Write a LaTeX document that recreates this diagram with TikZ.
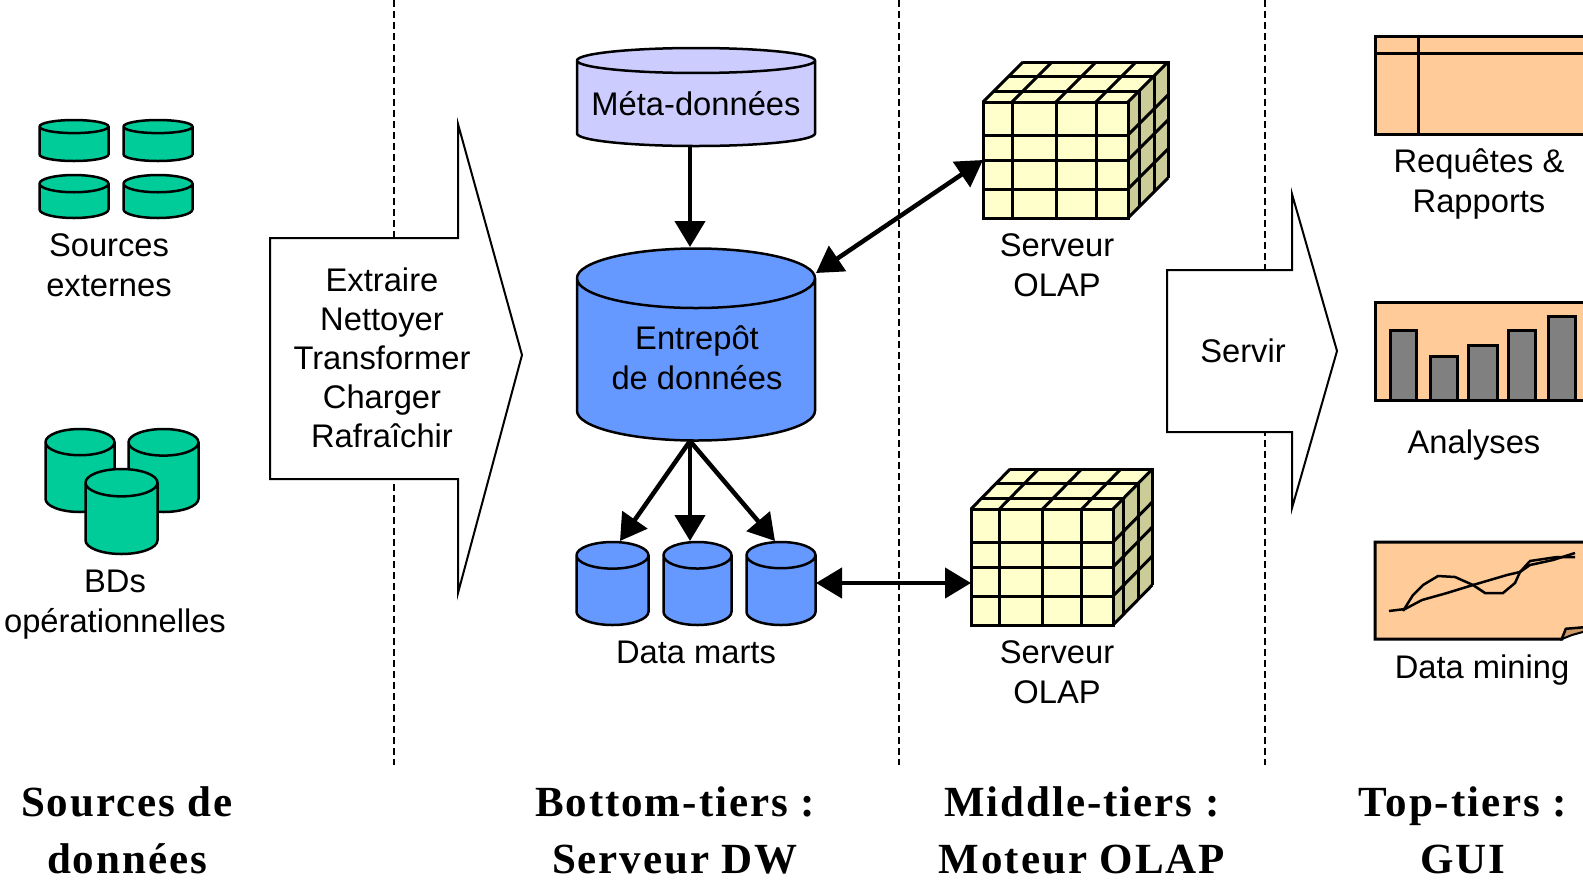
\documentclass[tikz,border=0pt]{standalone}
\usepackage{fontspec}
\setmainfont{Liberation Sans}
\newfontfamily\tierfont[LetterSpace=4.5]{Liberation Serif}
\usetikzlibrary{shapes.geometric,arrows.meta}
\definecolor{dbgreen}{HTML}{00CC99}
\definecolor{dbblue}{HTML}{6699FF}
\definecolor{dbmeta}{HTML}{CCCCFF}
\definecolor{cubeyellow}{HTML}{FFFFCC}
\definecolor{cubeside}{HTML}{CCCC99}
\definecolor{guiorange}{HTML}{FFCC99}
\definecolor{guifold}{HTML}{CC9966}
\tikzset{
  lbl/.style={align=center,inner sep=0,font=\fontsize{32.7}{40}\selectfont},
  tier/.style={align=center,inner sep=0,font=\tierfont\bfseries\fontsize{43}{57}\selectfont},
  cyl/.style 2 args={cylinder,shape border rotate=90,draw,anchor=shape center,inner sep=0,outer sep=0,
    line width=2.5pt,align=center,font=\fontsize{32.7}{40}\selectfont,cylinder uses custom fill,
    cylinder body fill=#1,cylinder end fill=#1,minimum width=#2pt,text width=#2pt},
  flow/.style={draw,fill=white,line width=2pt,line join=miter},
  panel/.style={draw,fill=guiorange,line width=3pt},
  arrowline/.style={line width=4.5pt,-{Triangle[length=26pt,width=30pt]}},
  twoway/.style={line width=4.5pt,{Triangle[length=26pt,width=30pt]}-{Triangle[length=26pt,width=30pt]}},
  olapcube/.pic={
    \fill[cubeyellow] (0,0) -- (145,0) -- (185,-40) -- (40,-40) -- cycle;
    \fill[cubeside] (145,0) -- (185,-40) -- (185,76) -- (145,116) -- cycle;
    \node[draw,fill=cubeyellow,line width=3pt,minimum width=145pt,minimum height=116pt,inner sep=0,outer sep=0,transform shape] (front) at (72.5,58) {};
    \begin{scope}[line width=3pt]
    \foreach \x in {29,73,113} \draw (\x,0) -- (\x,116);
    \foreach \y in {33,58,87} \draw (0,\y) -- (145,\y);
    \foreach \x in {0,29,73,113,145} \draw (\x,0) -- (\x+40,-40);
    \foreach \d in {11,26,40} \draw (\d,-\d) -- (145+\d,-\d) -- (145+\d,116-\d);
    \foreach \y in {33,58,87,116} \draw (145,\y) -- (185,\y-40);
    \end{scope}
  }
}
\begin{document}
\begin{tikzpicture}[x=1pt,y=-1pt]
  \useasboundingbox (0,0) rectangle (1583,879);
  % separators
  \foreach \x in {394,899,1265}
    \draw[line width=2.2pt,dash pattern=on 7pt off 4pt] (\x,0) -- (\x,765);

  % sources
  \node[cyl={dbgreen}{69},shape aspect=.19,minimum height=41pt] (extA) at (74,140.5) {};
  \node[cyl={dbgreen}{69},shape aspect=.19,minimum height=41pt] (extB) at (158,140.5) {};
  \node[cyl={dbgreen}{69},shape aspect=.25,minimum height=43pt] (extC) at (74,196.5) {};
  \node[cyl={dbgreen}{69},shape aspect=.25,minimum height=43pt] (extD) at (158,196.5) {};
  \node[lbl] (extlabel) at (109,265) {Sources\\externes};
  \node[cyl={dbgreen}{69},shape aspect=.38,minimum height=83pt] (opA) at (80,470.5) {};
  \node[cyl={dbgreen}{70},shape aspect=.38,minimum height=83pt] (opB) at (163.5,470.5) {};
  \node[cyl={dbgreen}{72},shape aspect=.38,minimum height=85pt] (opC) at (121.5,511.5) {};
  \node[lbl] (oplabel) at (115,605) {BDs\\opérationnelles};

  % extract arrow
  \path[flow] (270,238) -- (458,238) -- (458,124) -- (522,355) -- (458,593) -- (458,479) -- (270,479) -- cycle;
  \node[lbl,font=\fontsize{32.7}{39}\selectfont] (etl) at (382,358) {Extraire\\Nettoyer\\Transformer\\Charger\\Rafraîchir};

  % warehouse
  \node[cyl={dbmeta}{238},shape aspect=.105,minimum height=98pt] (meta) at (696,97) {Méta-données};
  \node[cyl={dbblue}{238},shape aspect=.25,minimum height=192pt] (dw) at (696,344.5) {};
  \node[lbl] (dwlabel) at (697,358) {Entrepôt\\de données};
  \node[cyl={dbblue}{72},shape aspect=.37,minimum height=83pt] (martA) at (612.5,583.5) {};
  \node[cyl={dbblue}{68},shape aspect=.39,minimum height=83pt] (martB) at (697.5,583.5) {};
  \node[cyl={dbblue}{69},shape aspect=.38,minimum height=83pt] (martC) at (781,583.5) {};
  \node[lbl] (martlabel) at (696,652) {Data marts};

  % olap
  \pic (olapA-) at (983,102) {olapcube};
  \node[lbl] (olapAlabel) at (1057,265) {Serveur\\OLAP};
  \pic[xscale=.98] (olapB-) at (971,509) {olapcube};
  \node[lbl] (olapBlabel) at (1057,672) {Serveur\\OLAP};

  % serve arrow
  \path[flow] (1167,270) -- (1292,270) -- (1292,194) -- (1337,351) -- (1292,508) -- (1292,432) -- (1167,432) -- cycle;
  \node[lbl] (serve) at (1243,351) {Servir};

  % connectors
  \coordinate (metaout) at (690,147);
  \coordinate (dwin) at (690,247);
  \coordinate (dwout) at (690,441);
  \coordinate (dwolap) at (816,273);
  \coordinate (tipA) at (620,541);
  \coordinate (tipB) at (690,541);
  \coordinate (tipC) at (775,541);
  \coordinate (martout) at (816,583);
  \path[arrowline]
        (metaout) edge (dwin)
        (dwout) edge (tipA)
        (dwout) edge (tipB)
        (dwout) edge (tipC);
  \path[twoway]
        (dwolap) edge (olapA-front.west)
        (martout) edge (martout -| olapB-front.west);

  % gui panels
  \path[panel] (1375,36) rectangle (1590,134);
  \draw[line width=3pt] (1375,53) -- (1590,53) (1418,36) -- (1418,134);
  \node[lbl] (reqlabel) at (1479,184) {Requêtes \&\\Rapports};

  \path[panel] (1375,302) rectangle (1590,400);
  \foreach \xa/\xb/\ytop in {1390/1416/330,1430/1457/356,1468/1497/345,1508/1535/330,1548/1575/316}
    \draw[fill=gray,line width=3pt] (\xa,400) rectangle (\xb,\ytop);
  \node[lbl] (anlabel) at (1474,445) {Analyses};

  \path[panel] (1375,542) -- (1590,542) -- (1590,627) -- (1566,629) -- (1562,639) -- (1375,639) -- cycle;
  \draw[fill=guifold,line width=2pt] (1566,629) -- (1590,627) -- (1590,630) -- (1572,635) -- (1562,639) -- cycle;
  \draw[line width=2.5pt] (1389,611) -- (1405,609) -- (1422,600) -- (1447,593) -- (1473,585) -- (1507,575) -- (1520,572) -- (1530,565) -- (1553,560) -- (1575,553);
  \draw[line width=2.5pt] (1403,611) -- (1413,595) -- (1423,585) -- (1438,576) -- (1455,577) -- (1473,585) -- (1485,593) -- (1503,593) -- (1515,583) -- (1520,572) -- (1530,561) -- (1557,557) -- (1575,557);
  \node[lbl] (dmlabel) at (1482,670) {Data mining};

  % tiers
  \node[tier] (tierA) at (127,830) {Sources de\\données};
  \node[tier] (tierB) at (675,830) {Bottom-tiers :\\Serveur DW};
  \node[tier] (tierC) at (1082,830) {Middle-tiers :\\Moteur OLAP};
  \node[tier] (tierD) at (1463,830) {Top-tiers :\\GUI};
\end{tikzpicture}
\end{document}
